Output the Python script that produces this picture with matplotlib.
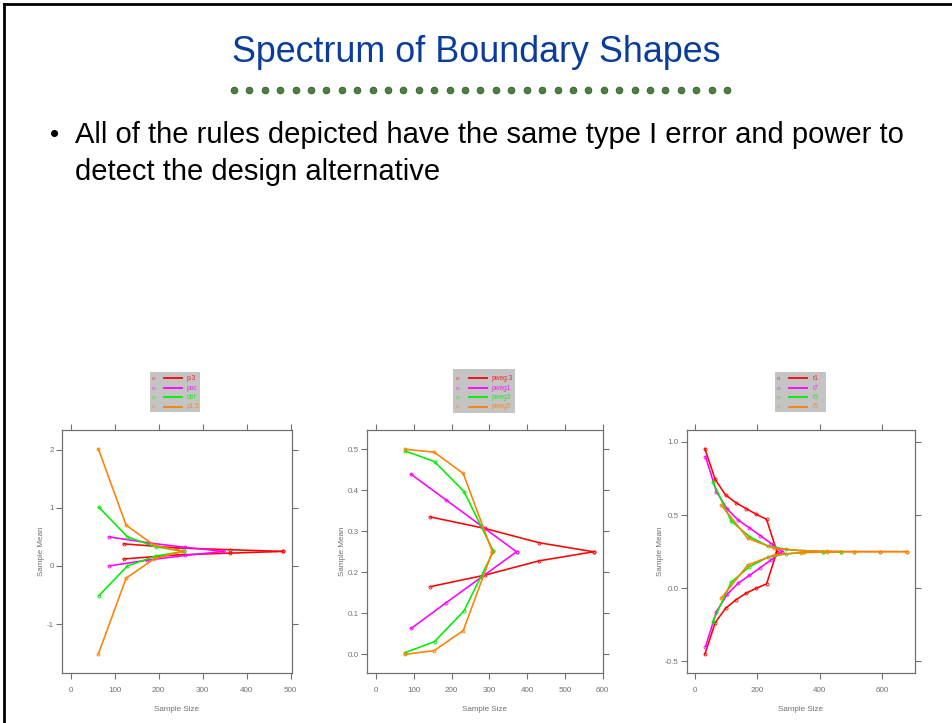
import matplotlib
matplotlib.use("Agg")
import matplotlib.pyplot as plt
from matplotlib.lines import Line2D
from matplotlib.patches import Rectangle

W, H = 953, 723

# ---------------------------------------------------------------------------
# Data
# ---------------------------------------------------------------------------
SERIES_COLORS = ["#ff0000", "#ff00ff", "#00ee00", "#ff8000"]

# panel 1 : P shape parameter
p1_labels = ["p.3", "poc", "obf", "p1.5"]
p1_n = [[120, 241, 361, 482], [87, 174, 260, 347],
        [64, 129, 193, 257], [63, 126, 189, 252]]
p1_upper = [[0.38, 0.31, 0.28, 0.25], [0.50, 0.40, 0.32, 0.25],
            [1.01, 0.50, 0.33, 0.25], [2.01, 0.70, 0.36, 0.25]]
p1_lower = [[0.12, 0.19, 0.22, 0.25], [0.00, 0.10, 0.18, 0.25],
            [-0.51, 0.00, 0.17, 0.25], [-1.51, -0.21, 0.12, 0.25]]

# panel 2
p2_labels = ["pweg.3", "pweg1", "pweg3", "pweg5"]
p2_n = [[144, 288, 432, 576], [93, 186, 279, 372],
        [77, 155, 233, 311], [77, 154, 231, 308]]
p2_upper = [[0.335, 0.307, 0.272, 0.25], [0.439, 0.376, 0.313, 0.25],
            [0.496, 0.470, 0.397, 0.251], [0.500, 0.493, 0.441, 0.25]]
p2_lower = [[0.165, 0.193, 0.228, 0.25], [0.063, 0.126, 0.188, 0.25],
            [0.004, 0.031, 0.106, 0.251], [0.000, 0.009, 0.058, 0.25]]

# panel 3 : R parameter
p3_labels = ["r1", "r7", "r3", "r5"]
p3_n = [[33, 66, 99, 132, 164, 197, 230, 263],
        [35, 70, 105, 140, 175, 210, 245, 280],
        [58, 117, 175, 234, 292, 351, 409, 468],
        [85, 170, 254, 339, 424, 509, 593, 678]]
p3_upper = [[0.955, 0.744, 0.638, 0.585, 0.545, 0.506, 0.471, 0.25],
            [0.90, 0.66, 0.54, 0.465, 0.413, 0.36, 0.305, 0.25],
            [0.729, 0.46, 0.353, 0.289, 0.265, 0.255, 0.251, 0.25],
            [0.569, 0.341, 0.273, 0.257, 0.252, 0.251, 0.25, 0.25]]
p3_lower = [[-0.452, -0.236, -0.138, -0.080, -0.035, 0.0, 0.029, 0.25],
            [-0.40, -0.16, -0.04, 0.035, 0.087, 0.14, 0.195, 0.25],
            [-0.229, 0.04, 0.147, 0.211, 0.235, 0.245, 0.249, 0.25],
            [-0.069, 0.159, 0.227, 0.243, 0.248, 0.249, 0.25, 0.25]]

p1_xticks = [0, 100, 200, 300, 400, 500]
p1_yticks = [-1, 0, 1, 2]
p2_xticks = [0, 100, 200, 300, 400, 500, 600]
p2_yticks = [0.0, 0.1, 0.2, 0.3, 0.4, 0.5]
p3_xticks = [0, 200, 400, 600]
p3_yticks = [-0.5, 0.0, 0.5, 1.0]

TITLE = "Spectrum of Boundary Shapes"
BULLET_1 = "All of the rules depicted have the same type I error and power to"
BULLET_2 = "detect the design alternative"

GRAY = "#707070"
FONT = "Liberation Sans"


def fx(x):
    return x / W


def fy(y):
    return 1 - y / H


def px_axes(fig, left, top, right, bottom):
    return fig.add_axes([fx(left), fy(bottom), (right - left) / W, (bottom - top) / H])


def boundary_panel(fig, box, ns, ups, lows, xlim, ylim, xticks, yticks, yfmt):
    ax = px_axes(fig, *box)
    for n, up, lo, c in zip(ns, ups, lows, SERIES_COLORS):
        for ys in (up, lo):
            ax.plot(n, ys, color=c, lw=1.15, marker="o", ms=2.2,
                    mfc="none", mew=0.6, solid_joinstyle="miter")
    ax.set_xlim(*xlim)
    ax.set_ylim(*ylim)
    ax.set_xticks(xticks)
    ax.set_yticks(yticks)
    ax.set_yticklabels([yfmt.format(v) for v in yticks])
    ax.tick_params(which="both", direction="out", length=4, width=0.8,
                   color=GRAY, labelcolor=GRAY, labelsize=5.8,
                   top=True, right=True)
    ax.tick_params(axis="x", pad=6)
    ax.tick_params(axis="y", pad=2)
    for s in ax.spines.values():
        s.set_color(GRAY)
        s.set_linewidth(0.9)
    ax.set_xlabel("Sample Size", fontsize=5.8, color=GRAY, labelpad=9)
    ax.set_ylabel("Sample Mean", fontsize=5.8, color=GRAY, labelpad=1)
    return ax


def legend_box(fig, box, labels, marker_x, line_x, label_x):
    left, top, right, bottom = box
    fig.patches.append(Rectangle((fx(left), fy(bottom)), (right - left) / W,
                                 (bottom - top) / H, transform=fig.transFigure,
                                 facecolor="#c4c4c4", edgecolor="none"))
    rows = [378, 388, 397, 407]
    for y, lab, c in zip(rows, labels, SERIES_COLORS):
        fig.text(fx(marker_x), fy(y), "o", color=c, fontsize=4.5,
                 ha="center", va="center", alpha=0.7)
        fig.add_artist(Line2D([fx(line_x[0]), fx(line_x[1])], [fy(y), fy(y)],
                              transform=fig.transFigure, color=c, lw=1.3))
        fig.text(fx(label_x), fy(y), lab, color=c, fontsize=4.8,
                 ha="left", va="center", alpha=0.8)


plt.rcParams["font.family"] = [FONT, "DejaVu Sans"]
fig = plt.figure(figsize=(W / 100, H / 100), dpi=100)
fig.patch.set_facecolor("white")

# slide frame
fig.add_artist(Line2D([fx(4), fx(4)], [fy(4), fy(H + 5)], transform=fig.transFigure,
                      color="black", lw=2))
fig.add_artist(Line2D([fx(4), fx(W + 5)], [fy(4), fy(4)], transform=fig.transFigure,
                      color="black", lw=2))

# title + dotted rule
fig.text(0.5, fy(53), TITLE, ha="center", va="center", fontsize=25.8,
         color="#0a3c9c")
n_dots = 33
dot_x = [fx(234 + i * (727 - 234) / (n_dots - 1)) for i in range(n_dots)]
fig.add_artist(Line2D(dot_x, [fy(90)] * n_dots, transform=fig.transFigure,
                      ls="none", marker="o", ms=4.8, mfc="#4c8040",
                      mec="#2f5a28", mew=0.6))

# bullet text
fig.text(fx(50), fy(135), "\u2022", ha="left", va="center", fontsize=19, color="black")
fig.text(fx(75), fy(135), BULLET_1, ha="left", va="center", fontsize=21, color="black")
fig.text(fx(75), fy(172), BULLET_2, ha="left", va="center", fontsize=21, color="black")

# panels
boundary_panel(fig, (62, 430, 292, 673), p1_n, p1_upper, p1_lower,
               (-19.8, 503), (-1.84, 2.337), p1_xticks, p1_yticks, "{:g}")
boundary_panel(fig, (367, 430, 603, 673), p2_n, p2_upper, p2_lower,
               (-23.8, 601), (-0.0456, 0.547), p2_xticks, p2_yticks, "{:.1f}")
boundary_panel(fig, (687, 430, 915, 673), p3_n, p3_upper, p3_lower,
               (-24, 704), (-0.58, 1.082), p3_xticks, p3_yticks, "{:.1f}")

legend_box(fig, (150, 372, 200, 412), p1_labels, 154, (164, 182), 187)
legend_box(fig, (453, 369, 515, 413), p2_labels, 458, (469, 487), 492)
legend_box(fig, (775, 372, 826, 412), p3_labels, 779, (789, 807), 813)

fig.savefig("out.png", dpi=100, facecolor="white")
